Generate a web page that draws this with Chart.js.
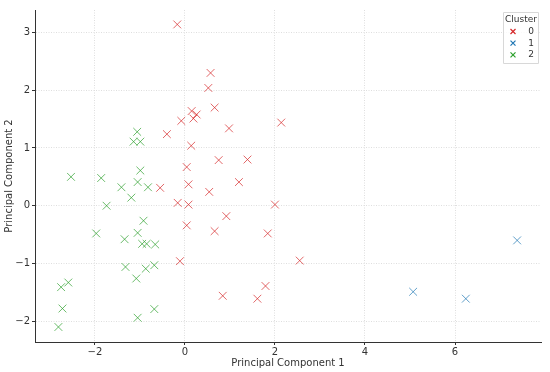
<!DOCTYPE html>
<html>
<head>
<meta charset="utf-8">
<script src="https://cdn.jsdelivr.net/npm/chart.js@4.4.0/dist/chart.umd.min.js"></script>
<style>
  html, body { margin: 0; padding: 0; background: #fff; }
  #wrap { width: 550px; height: 372px; }
</style>
</head>
<body>
<div id="wrap"><canvas id="pcaChart" width="550" height="372"></canvas></div>
<script>
// cluster 0
const c0x = [-0.17, 0.57, 0.52, 0.66, 0.15, 0.26, 0.19, -0.08, 0.98, 2.14, -0.40, 0.14, 0.75, 1.39, 0.04, 1.20,
  0.08, -0.55, 0.54, -0.16, 0.08, 2.00, 0.92, 0.04, 0.66, 1.84, -0.11, 2.55, 1.79, 0.84, 1.61];
const c0y = [3.14, 2.30, 2.04, 1.70, 1.64, 1.58, 1.51, 1.47, 1.34, 1.44, 1.24, 1.04, 0.79, 0.80, 0.67, 0.41,
  0.37, 0.31, 0.24, 0.05, 0.02, 0.02, -0.18, -0.34, -0.44, -0.48, -0.96, -0.95, -1.39, -1.56, -1.61];
// cluster 1
const c1x = [5.07, 6.24, 7.38];
const c1y = [-1.49, -1.61, -0.60];
// cluster 2
const c2x = [-2.53, -1.86, -0.99, -1.41, -1.05, -0.82, -1.19, -1.74, -1.06, -1.14, -0.99, -0.92, -1.97, -1.05,
  -1.34, -0.95, -0.85, -0.66, -1.32, -0.68, -0.87, -1.08, -2.59, -2.75, -2.72, -0.68, -1.05, -2.81];
const c2y = [0.50, 0.48, 0.61, 0.32, 0.41, 0.32, 0.14, 0.00, 1.28, 1.11, 1.11, -0.26, -0.48, -0.47,
  -0.58, -0.66, -0.66, -0.67, -1.06, -1.03, -1.09, -1.26, -1.33, -1.41, -1.78, -1.79, -1.94, -2.10];

const clusterNames = ['0', '1', '2'];
const xTicks = [-2, 0, 2, 4, 6];
const yTicks = [-2, -1, 0, 1, 2, 3];

const colors = ['rgba(214,39,40,0.7)', 'rgba(31,119,180,0.7)', 'rgba(44,160,44,0.7)'];
const solid = ['#d62728', '#1f77b4', '#2ca02c'];

function pts(xs, ys) {
  return xs.map((x, i) => ({ x: x, y: ys[i] }));
}

const fam = '"DejaVu Sans", sans-serif';
const minus = v => String(v).replace('-', '\u2212');

// legend box drawn inside the plot, top right (like matplotlib)
const boxLegend = {
  id: 'boxLegend',
  afterDraw(chart) {
    const ctx = chart.ctx;
    const x0 = 503, y0 = 12, w = 35, h = 51;
    ctx.save();
    ctx.fillStyle = 'rgba(255,255,255,0.8)';
    ctx.strokeStyle = '#d8d8d8';
    ctx.lineWidth = 1;
    ctx.beginPath();
    ctx.rect(x0 + 0.5, y0 + 0.5, w, h);
    ctx.fill();
    ctx.stroke();
    ctx.fillStyle = '#333';
    ctx.font = '9px ' + fam;
    ctx.textAlign = 'center';
    ctx.textBaseline = 'middle';
    ctx.fillText('Cluster', x0 + w / 2 + 0.5, y0 + 7.5);
    clusterNames.forEach((name, i) => {
      const cy = y0 + 19.5 + i * 11.7;
      const cx = x0 + 10;
      ctx.strokeStyle = solid[i];
      ctx.lineWidth = 1.2;
      ctx.beginPath();
      ctx.moveTo(cx - 2.5, cy - 2.5); ctx.lineTo(cx + 2.5, cy + 2.5);
      ctx.moveTo(cx - 2.5, cy + 2.5); ctx.lineTo(cx + 2.5, cy - 2.5);
      ctx.stroke();
      ctx.fillStyle = '#333';
      ctx.textAlign = 'right';
      ctx.fillText(name, x0 + w - 4, cy);
    });
    ctx.restore();
  }
};

new Chart(document.getElementById('pcaChart'), {
  type: 'scatter',
  data: {
    datasets: [
      { label: clusterNames[0], data: pts(c0x, c0y) },
      { label: clusterNames[1], data: pts(c1x, c1y) },
      { label: clusterNames[2], data: pts(c2x, c2y) }
    ].map((d, i) => Object.assign(d, {
      pointStyle: 'crossRot',
      pointRadius: 5.5,
      pointHoverRadius: 5.5,
      pointBorderWidth: 1,
      borderColor: colors[i],
      backgroundColor: colors[i]
    }))
  },
  options: {
    responsive: false,
    animation: false,
    layout: { padding: { top: 10, right: 9, left: 0, bottom: 0 } },
    plugins: {
      legend: { display: false },
      tooltip: { enabled: false }
    },
    scales: {
      x: {
        type: 'linear',
        min: -3.33,
        max: 7.91,
        afterBuildTicks: s => { s.ticks = xTicks.map(v => ({ value: v })); },
        afterFit: s => { s.height = 30; },
        grid: { color: '#dedede', tickColor: '#333', tickLength: 3, tickBorderDash: [] },
        border: { display: true, color: '#333', width: 1, dash: [1, 1.5] },
        ticks: { color: '#333', font: { family: fam, size: 10 }, padding: 1, maxRotation: 0, callback: minus },
        title: { display: true, text: 'Principal Component 1', color: '#333', font: { family: fam, size: 10 }, padding: { top: 0, bottom: 3 } }
      },
      y: {
        type: 'linear',
        min: -2.36,
        max: 3.39,
        afterBuildTicks: s => { s.ticks = yTicks.map(v => ({ value: v })); },
        afterFit: s => { s.width = 35; },
        grid: { color: '#dedede', tickColor: '#333', tickLength: 3, tickBorderDash: [] },
        border: { display: true, color: '#333', width: 1, dash: [1, 1.5] },
        ticks: { color: '#333', font: { family: fam, size: 10 }, padding: 2, callback: minus },
        title: { display: true, text: 'Principal Component 2', color: '#333', font: { family: fam, size: 10 }, padding: { top: 3, bottom: 0 } }
      }
    }
  },
  plugins: [boxLegend]
});
</script>
</body>
</html>
